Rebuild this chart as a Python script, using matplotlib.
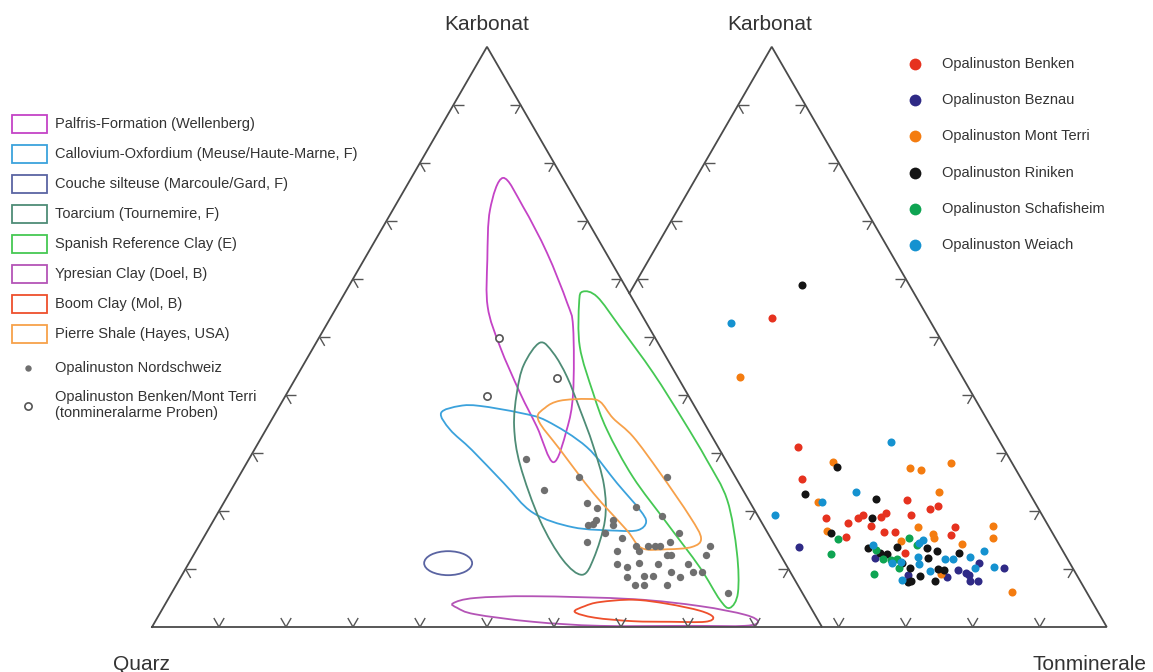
import numpy as np
import matplotlib
matplotlib.use("Agg")
import matplotlib.pyplot as plt
from matplotlib.path import Path
from matplotlib.patches import PathPatch, Ellipse, Rectangle

plt.rcParams['font.family'] = ['Liberation Sans', 'DejaVu Sans']

# ---------------- data (Karbonat %, Tonminerale %) ----------------
# Left diagram: Opalinuston Nordschweiz (grey dots)
nord_ca = [29.0, 25.9, 23.6, 25.9, 21.4, 20.5, 20.7, 19.1, 18.4, 17.6, 17.8, 18.4, 17.6, 16.2, 16.2,
           14.7, 15.3, 14.7, 14.0, 14.0, 14.0, 14.0, 14.0, 13.1, 13.1, 12.4, 12.4, 12.4, 10.9, 10.3,
           11.0, 10.9, 10.9, 9.5, 8.6, 9.5, 9.5, 8.6, 8.8, 8.8, 7.2, 7.2, 7.2, 5.9]
nord_ton = [41.3, 50.8, 46.7, 63.9, 54.2, 56.2, 61.9, 66.6, 57.1, 56.3, 56.9, 59.6, 60.0, 59.5, 70.6,
            57.6, 62.5, 70.0, 76.3, 65.2, 67.0, 68.1, 68.8, 66.1, 62.8, 76.5, 70.7, 71.3, 64.0, 65.7,
            67.2, 70.0, 74.6, 72.7, 74.5, 76.0, 77.3, 66.6, 69.0, 70.4, 68.5, 69.8, 73.3, 83.0]
# Opalinuston Benken/Mont Terri (tonmineralarme Proben)
arm_ca = [49.8, 42.9, 39.8]
arm_ton = [26.9, 39.0, 30.1]

# Field outlines (Karbonat %, Tonminerale %)
palfris_ca = [77.4, 72.4, 64.5, 55.9, 51.7, 40.3, 34.0, 28.4, 34.5, 40.3, 48.3, 55.2, 63.3, 71.9]
palfris_ton = [13.7, 19.2, 26.7, 34.0, 37.0, 42.7, 44.9, 45.7, 40.2, 34.8, 27.8, 22.5, 18.4, 14.5]
callov_ca = [36.9, 38.1, 38.1, 36.9, 35.5, 31.0, 24.8, 20.2, 18.1, 16.7, 16.6, 17.2, 19.7, 24.8, 30.5, 34.0]
callov_ton = [24.7, 26.9, 29.9, 36.5, 41.2, 49.4, 57.0, 62.7, 64.7, 64.2, 61.1, 54.2, 47.0, 40.1, 32.5, 27.5]
toarc_ca = [49.0, 47.2, 43.1, 37.4, 31.4, 24.5, 18.4, 11.9, 9.0, 11.6, 18.4, 27.9, 34.5, 40.3, 45.2]
toarc_ton = [33.4, 36.3, 40.4, 45.2, 50.1, 55.2, 58.4, 60.0, 59.7, 55.5, 48.7, 41.0, 36.8, 34.3, 32.9]
spain_ca = [57.8, 56.9, 51.7, 43.8, 35.7, 28.8, 21.9, 12.8, 5.9, 3.3, 4.7, 10.3, 17.9, 25.9, 34.0, 40.3, 48.3, 55.9]
spain_ton = [35.4, 38.0, 44.0, 52.9, 61.4, 68.4, 74.9, 80.9, 84.5, 84.6, 82.4, 76.6, 67.9, 58.8, 50.9, 45.7, 39.7, 35.8]
ypres_ca = [4.1, 5.0, 5.3, 4.8, 3.6, 2.1, 0.9, 0.2, 0.2, 0.2, 0.9, 2.2, 3.3]
ypres_ton = [42.9, 45.7, 54.2, 69.4, 80.0, 87.5, 90.0, 88.4, 80.2, 66.8, 56.4, 47.1, 43.9]
boom_ca = [2.6, 3.6, 4.3, 4.7, 4.0, 2.8, 1.7, 0.9, 0.9, 1.0, 1.6]
boom_ton = [61.8, 62.8, 64.7, 69.5, 74.9, 80.4, 82.9, 82.1, 76.9, 71.3, 65.3]
pierre_ca = [35.7, 37.8, 39.0, 39.3, 38.8, 36.0, 32.8, 26.6, 19.0, 15.3, 13.8, 13.4, 13.6, 16.7, 23.1, 30.5]
pierre_ton = [39.8, 39.8, 41.4, 45.3, 47.5, 50.8, 55.4, 62.5, 70.8, 74.3, 73.7, 70.2, 66.3, 62.5, 54.3, 45.7]
couche_ca = 11.0   # centre
couche_ton = 38.7

# Right diagram: Opalinuston boreholes
benken_ca = [53.3, 31.0, 25.5, 21.9, 20.3, 20.9, 18.8, 17.9, 18.8, 19.3, 19.0, 19.7, 19.3, 17.4, 17.2,
             16.4, 16.4, 15.5, 15.9, 12.8]
benken_ton = [23.4, 38.4, 41.7, 59.2, 63.4, 64.3, 48.7, 52.4, 53.4, 53.9, 56.8, 57.2, 61.2, 56.1, 68.7,
              58.5, 60.2, 53.3, 68.8, 63.5]
beznau_ca = [13.8, 11.9, 11.0, 10.2, 9.0, 8.6, 9.8, 9.3, 9.0, 7.9, 7.9]
beznau_ton = [47.1, 59.4, 75.5, 79.5, 65.8, 71.8, 72.9, 74.3, 74.9, 75.7, 76.8]
montterri_ca = [43.1, 28.4, 27.4, 27.1, 28.3, 23.3, 21.6, 17.2, 17.4, 16.6, 16.0, 15.3, 15.3, 14.8,
                14.3, 9.1, 6.0]
montterri_ton = [23.7, 44.9, 56.9, 58.7, 62.6, 63.3, 46.1, 63.3, 74.3, 49.9, 66.0, 66.5, 75.3, 61.9,
                 71.2, 70.7, 82.8]
riniken_ca = [59.0, 27.6, 22.9, 22.1, 18.8, 16.2, 13.6, 13.8, 13.6, 13.1, 12.8, 12.6, 11.9, 12.8,
              11.0, 10.2, 10.0, 9.8, 8.8, 7.8, 7.9, 7.9]
riniken_ton = [25.0, 45.9, 43.5, 54.5, 55.5, 50.7, 57.5, 61.8, 66.3, 68.1, 59.7, 60.9, 67.3, 71.5,
               63.9, 65.6, 69.8, 70.8, 67.8, 66.4, 66.9, 70.4]
schaf_ca = [15.2, 15.3, 12.6, 14.1, 13.3, 11.7, 11.6, 11.7, 10.2, 9.1]
schaf_ton = [52.3, 62.8, 52.5, 64.7, 58.9, 60.7, 62.0, 62.8, 63.9, 60.7]
weiach_ca = [52.4, 31.9, 23.3, 21.6, 19.3, 15.0, 14.5, 14.1, 13.1, 11.0, 11.2, 12.1, 11.7, 11.7,
             12.1, 10.2, 10.3, 10.9, 9.7, 8.1]
weiach_ton = [17.7, 51.8, 50.9, 46.7, 40.9, 65.0, 64.8, 58.0, 75.2, 62.4, 63.7, 65.8, 70.0, 71.2,
              73.5, 75.3, 78.0, 66.6, 68.7, 65.4]

field_labels = ["Palfris-Formation (Wellenberg)", "Callovium-Oxfordium (Meuse/Haute-Marne, F)",
                "Couche silteuse (Marcoule/Gard, F)", "Toarcium (Tournemire, F)",
                "Spanish Reference Clay (E)", "Ypresian Clay (Doel, B)", "Boom Clay (Mol, B)",
                "Pierre Shale (Hayes, USA)"]
series_labels = ["Opalinuston Benken", "Opalinuston Beznau", "Opalinuston Mont Terri",
                 "Opalinuston Riniken", "Opalinuston Schafisheim", "Opalinuston Weiach"]
axis_labels = ["Karbonat", "Quarz", "Tonminerale"]

# ---------------- styles ----------------
field_colors = ['#c443c6', '#3ba2dc', '#5a64a2', '#4e8c76', '#45c853', '#b454b6', '#ee4f2c', '#f7a14a']
series_colors = ['#e6321f', '#2f2a86', '#f47c10', '#141414', '#0ea452', '#1592d0']
GREY = '#6f6f6f'
LINE = '#4a4a4a'
TXT = '#333333'

H = np.sqrt(3) / 2
X0R = 0.425  # x offset of the right diagram


def tern(ca, ton, x0=0.0):
    ca = np.asarray(ca, float) / 100.0
    ton = np.asarray(ton, float) / 100.0
    return x0 + ton + ca / 2.0, ca * H


def P(x, y):  # layout helper: pixel position -> axes data
    return (x - 152) / 670.0, (627 - y) / 670.0


def smooth_closed(xs, ys):
    pts = np.column_stack([xs, ys])
    n = len(pts)
    verts = [pts[0]]
    codes = [Path.MOVETO]
    for i in range(n):
        p0, p1, p2, p3 = pts[i - 1], pts[i], pts[(i + 1) % n], pts[(i + 2) % n]
        verts += [p1 + (p2 - p0) / 6.0, p2 - (p3 - p1) / 6.0, p2]
        codes += [Path.CURVE4] * 3
    verts.append(pts[0])
    codes.append(Path.CLOSEPOLY)
    return Path(verts, codes)


fig = plt.figure(figsize=(11.53, 6.72), dpi=100)
ax = fig.add_axes([0, 0, 1, 1])
ax.set_xlim(-152 / 670, 1001 / 670)
ax.set_ylim(-45 / 670, 627 / 670)
ax.axis('off')

# ---------------- triangles ----------------
L = 0.0155
tk = dict(color='#555555', lw=1.0, solid_capstyle='butt')


def tick(px, py, dirs):
    for dx, dy in dirs:
        ax.plot([px, px + L * dx], [py, py + L * dy], **tk)


# left triangle
ax.plot([0, 1, 0.5, 0], [0, 0, H, 0], color=LINE, lw=1.3, solid_joinstyle='miter')
for k in range(1, 10):
    f = k / 10
    tick(f, 0, [(-0.5, H), (0.5, H)])
    tick(f / 2, f * H, [(1, 0), (0.5, -H)])
    tick(1 - f / 2, f * H, [(-1, 0), (-0.5, -H)])

# right triangle (partly hidden behind left one)
xi = (1 + X0R) / 2
yi = np.sqrt(3) * (1 - X0R) / 2
ax.plot([1, X0R + 1, X0R + 0.5, xi], [0, 0, H, yi], color=LINE, lw=1.3, solid_joinstyle='miter')
for k in range(1, 10):
    f = k / 10
    if X0R + f > 1.0:
        tick(X0R + f, 0, [(-0.5, H), (0.5, H)])
    if f * H > yi + 0.01:
        tick(X0R + f / 2, f * H, [(1, 0), (0.5, -H)])
    tick(X0R + 1 - f / 2, f * H, [(-1, 0), (-0.5, -H)])

# ---------------- fields ----------------
outlines = [(palfris_ca, palfris_ton), (callov_ca, callov_ton), None, (toarc_ca, toarc_ton),
            (spain_ca, spain_ton), (ypres_ca, ypres_ton), (boom_ca, boom_ton), (pierre_ca, pierre_ton)]
for outline, col in zip(outlines, field_colors):
    if outline is None:
        cx, cy = tern(couche_ca, couche_ton)
        ax.add_patch(Ellipse((cx, cy), 48 / 670, 24 / 670, fill=False, edgecolor=col, lw=1.3))
    else:
        xs, ys = tern(*outline)
        ax.add_patch(PathPatch(smooth_closed(xs, ys), fill=False, edgecolor=col, lw=1.3))

# ---------------- points ----------------
x, y = tern(nord_ca, nord_ton)
ax.plot(x, y, 'o', ls='none', ms=5.3, color=GREY, mec='none')
x, y = tern(arm_ca, arm_ton)
ax.plot(x, y, 'o', ls='none', ms=5.2, mfc='white', mec='#555555', mew=1.2)

series = [(benken_ca, benken_ton), (beznau_ca, beznau_ton), (montterri_ca, montterri_ton),
          (riniken_ca, riniken_ton), (schaf_ca, schaf_ton), (weiach_ca, weiach_ton)]
for (ca, ton), col in zip(series, series_colors):
    x, y = tern(ca, ton, X0R)
    ax.plot(x, y, 'o', ls='none', ms=5.8, color=col, mec='none')

# ---------------- labels ----------------
ax.text(*P(487, 30), axis_labels[0], ha='center', va='baseline', fontsize=15, color=TXT)
ax.text(*P(770, 30), axis_labels[0], ha='center', va='baseline', fontsize=15, color=TXT)
ax.text(*P(141, 670), axis_labels[1], ha='center', va='baseline', fontsize=15, color=TXT)
ax.text(*P(1089, 670), axis_labels[2], ha='center', va='baseline', fontsize=15, color=TXT)

# ---------------- left legend ----------------
for i, (lab, col) in enumerate(zip(field_labels, field_colors)):
    yc = 124 + 30 * i
    x0, y0 = P(12, yc + 9)
    ax.add_patch(Rectangle((x0, y0), 35 / 670, 18 / 670, fill=False, edgecolor=col, lw=1.3))
    ax.text(*P(55, yc), lab, ha='left', va='center', fontsize=10.5, color=TXT)

ax.plot(*P(28, 368), 'o', ms=4.6, color=GREY, mec='none')
ax.text(*P(55, 368), "Opalinuston Nordschweiz", ha='left', va='center', fontsize=10.5, color=TXT)
ax.plot(*P(28, 406), 'o', ms=5.2, mfc='white', mec='#555555', mew=1.2)
ax.text(*P(55, 397), "Opalinuston Benken/Mont Terri", ha='left', va='center', fontsize=10.5, color=TXT)
ax.text(*P(55, 413), "(tonmineralarme Proben)", ha='left', va='center', fontsize=10.5, color=TXT)

# ---------------- right legend ----------------
for i, (lab, col) in enumerate(zip(series_labels, series_colors)):
    yc = 64 + 36.2 * i
    ax.plot(*P(915, yc), 'o', ms=8.5, color=col, mec='none')
    ax.text(*P(942, yc), lab, ha='left', va='center', fontsize=10.5, color=TXT)

fig.savefig("out.png", dpi=100)
